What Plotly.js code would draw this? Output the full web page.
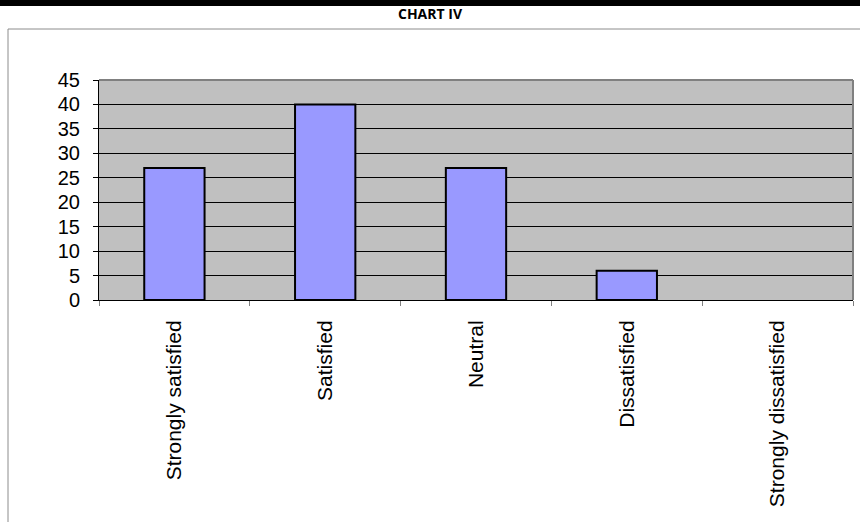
<!DOCTYPE html>
<html>
<head>
<meta charset="utf-8">
<script src="https://cdn.plot.ly/plotly-3.0.1.min.js"></script>
<style>
  html, body { margin: 0; padding: 0; background: #ffffff; }
  #chart { width: 860px; height: 522px; }
</style>
</head>
<body>
<div id="chart"></div>
<script>
// Survey responses per satisfaction level
var categories = ["Strongly satisfied", "Satisfied", "Neutral", "Dissatisfied", "Strongly dissatisfied"];
var responses = [27, 40, 27, 6, 0];
var yTickValues = [0, 5, 10, 15, 20, 25, 30, 35, 40, 45];
var chartTitle = "CHART IV";

var W = 860, H = 522;
var plotLeft = 99, plotRight = 853, plotTop = 80, plotBottom = 300;
var plotW = plotRight - plotLeft, plotH = plotBottom - plotTop;
function px(x) { return (x - plotLeft) / plotW; }
function py(y) { return (plotBottom - y) / plotH; }

// empty categories get no outline, so nothing is drawn for them
var outlineWidths = responses.map(function (v) { return v > 0 ? 2 : 0; });

var trace = {
  type: "bar",
  x: categories,
  y: responses,
  width: 0.4,
  marker: { color: "#9999FF", line: { color: "#000000", width: outlineWidths } },
  hoverinfo: "x+y"
};

var layout = {
  width: W,
  height: H,
  margin: { l: plotLeft, r: W - plotRight, t: plotTop, b: H - plotBottom, pad: 0 },
  paper_bgcolor: "#ffffff",
  plot_bgcolor: "#C0C0C0",
  showlegend: false,
  bargap: 0.6,
  title: {
    text: "<b>" + chartTitle + "</b>",
    font: { family: "'Open Sans', 'Noto Sans', sans-serif", size: 14, color: "#000000" },
    x: 0.5, xref: "container", xanchor: "center",
    y: 1 - 14 / H, yref: "container", yanchor: "middle"
  },
  xaxis: {
    type: "category",
    tickangle: -90,
    tickson: "boundaries",
    ticks: "outside",
    ticklen: 5,
    tickcolor: "#808080",
    tickwidth: 1,
    ticklabelstandoff: 11,
    showline: true,
    linecolor: "#000000",
    linewidth: 1,
    showgrid: false,
    zeroline: false,
    tickfont: { family: "'Liberation Sans', Arial, sans-serif", size: 21, color: "#000000" }
  },
  yaxis: {
    range: [0, 45],
    tickvals: yTickValues,
    ticks: "outside",
    ticklen: 5,
    tickcolor: "#000000",
    tickwidth: 1,
    ticklabelstandoff: 9,
    showline: true,
    linecolor: "#000000",
    linewidth: 1,
    showgrid: true,
    gridcolor: "#000000",
    gridwidth: 1,
    zeroline: false,
    tickfont: { family: "'Liberation Sans', Arial, sans-serif", size: 20, color: "#000000" }
  },
  shapes: [
    // black band across the top of the page
    { type: "rect", xref: "paper", yref: "paper", x0: px(-5), x1: px(W + 5), y0: py(6), y1: py(-5),
      fillcolor: "#000000", line: { width: 0 }, layer: "above" },
    // chart area frame
    { type: "rect", xref: "paper", yref: "paper", x0: px(8), x1: px(W + 20), y0: py(H + 20), y1: py(29),
      fillcolor: "rgba(0,0,0,0)", line: { color: "#8c8c8c", width: 1 }, layer: "below" },
    // plot area border, top and right edges
    { type: "line", xref: "paper", yref: "paper", x0: 0, x1: 1, y0: 1, y1: 1,
      line: { color: "#808080", width: 2 }, layer: "above" },
    { type: "line", xref: "paper", yref: "paper", x0: 1, x1: 1, y0: 0, y1: 1,
      line: { color: "#808080", width: 2 }, layer: "above" }
  ]
};

Plotly.newPlot("chart", [trace], layout, { displayModeBar: false, staticPlot: true });
</script>
</body>
</html>
